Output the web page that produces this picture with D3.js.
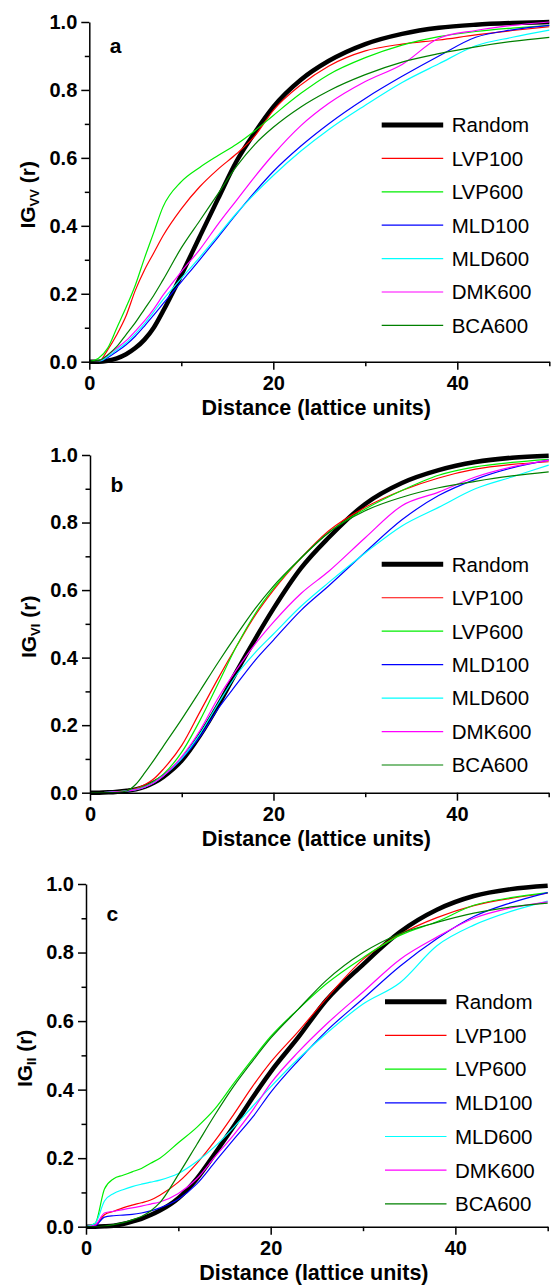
<!DOCTYPE html>
<html>
<head>
<meta charset="utf-8">
<script src="https://cdn.jsdelivr.net/npm/d3@7"></script>
<style>
  body { margin: 0; background: #fff; }
  svg text { font-family: "Liberation Sans", Arial, sans-serif; fill: #000; }
  .tick text { font-weight: bold; font-size: 20px; }
  .domain, .tick line { stroke: #000; stroke-width: 1.5; }
</style>
</head>
<body>
<div id="chart"></div>
<script>
// distance grid (lattice units)
var xs = [0, 1, 2, 3, 4, 5, 6, 7, 8, 10, 12, 14, 16, 18, 20, 23, 26, 30, 34, 38, 42, 46, 50];

var names = ["Random", "LVP100", "LVP600", "MLD100", "MLD600", "DMK600", "BCA600"];
var colors = ["#000000", "#ff0000", "#00ee00", "#0000ff", "#00ffff", "#ff00ff", "#008000"];

var yTicks = [0, 0.2, 0.4, 0.6, 0.8, 1.0];
var xTicks = [0, 20, 40];

// panel a : IG_VV
var aRandom = [0, 0, 0.003, 0.01, 0.022, 0.04, 0.065, 0.1, 0.148, 0.255, 0.368, 0.48, 0.59, 0.675, 0.75, 0.83, 0.885, 0.935, 0.965, 0.983, 0.992, 0.997, 1.0];
var aLVP100 = [0, 0, 0.035, 0.08, 0.135, 0.21, 0.27, 0.32, 0.37, 0.45, 0.515, 0.567, 0.612, 0.665, 0.74, 0.815, 0.87, 0.915, 0.935, 0.947, 0.962, 0.975, 0.986];
var aLVP600 = [0, 0.01, 0.04, 0.1, 0.16, 0.225, 0.305, 0.38, 0.455, 0.53, 0.572, 0.607, 0.64, 0.68, 0.725, 0.79, 0.845, 0.895, 0.932, 0.957, 0.972, 0.982, 0.99];
var aMLD100 = [0, 0, 0.012, 0.03, 0.05, 0.075, 0.105, 0.137, 0.17, 0.235, 0.3, 0.367, 0.435, 0.5, 0.56, 0.635, 0.7, 0.775, 0.84, 0.9, 0.955, 0.977, 0.99];
var aMLD600 = [0, 0, 0.015, 0.035, 0.055, 0.082, 0.112, 0.147, 0.182, 0.245, 0.307, 0.372, 0.437, 0.495, 0.548, 0.62, 0.683, 0.755, 0.822, 0.877, 0.93, 0.955, 0.976];
var aDMK600 = [0, 0.002, 0.02, 0.04, 0.062, 0.09, 0.12, 0.155, 0.195, 0.265, 0.33, 0.405, 0.475, 0.545, 0.61, 0.695, 0.76, 0.825, 0.875, 0.952, 0.975, 0.99, 1.0];
var aBCA600 = [0, 0.003, 0.02, 0.045, 0.08, 0.115, 0.155, 0.195, 0.24, 0.335, 0.415, 0.495, 0.575, 0.64, 0.69, 0.75, 0.797, 0.845, 0.882, 0.907, 0.927, 0.943, 0.955];

// panel b : IG_VI
var bRandom = [0, 0, 0.001, 0.003, 0.006, 0.01, 0.018, 0.03, 0.047, 0.095, 0.17, 0.26, 0.36, 0.455, 0.545, 0.665, 0.755, 0.855, 0.917, 0.955, 0.979, 0.992, 0.998];
var bLVP100 = [0, 0, 0.001, 0.003, 0.006, 0.012, 0.024, 0.042, 0.07, 0.14, 0.24, 0.34, 0.435, 0.525, 0.6, 0.695, 0.775, 0.845, 0.895, 0.932, 0.958, 0.972, 0.98];
var bLVP600 = [0, 0, 0.001, 0.003, 0.006, 0.011, 0.02, 0.034, 0.055, 0.12, 0.215, 0.325, 0.435, 0.53, 0.605, 0.695, 0.77, 0.84, 0.895, 0.94, 0.965, 0.978, 0.987];
var bMLD100 = [0, 0, 0.001, 0.003, 0.005, 0.009, 0.017, 0.03, 0.05, 0.1, 0.166, 0.25, 0.322, 0.392, 0.452, 0.54, 0.612, 0.712, 0.808, 0.88, 0.928, 0.962, 0.985];
var bMLD600 = [0, 0, 0.001, 0.003, 0.005, 0.009, 0.017, 0.03, 0.05, 0.102, 0.175, 0.265, 0.35, 0.415, 0.47, 0.552, 0.622, 0.71, 0.79, 0.845, 0.9, 0.935, 0.97];
var bDMK600 = [0, 0, 0.001, 0.003, 0.005, 0.009, 0.017, 0.03, 0.05, 0.107, 0.185, 0.282, 0.365, 0.44, 0.505, 0.59, 0.655, 0.755, 0.85, 0.89, 0.935, 0.965, 0.985];
var bBCA600 = [0, 0, 0, 0.001, 0.005, 0.025, 0.06, 0.098, 0.138, 0.218, 0.302, 0.387, 0.468, 0.545, 0.612, 0.695, 0.77, 0.835, 0.875, 0.903, 0.922, 0.938, 0.95];

// panel c : IG_II
var cRandom = [0, 0, 0.001, 0.003, 0.008, 0.015, 0.023, 0.034, 0.047, 0.083, 0.14, 0.215, 0.293, 0.375, 0.452, 0.553, 0.66, 0.765, 0.86, 0.925, 0.965, 0.985, 0.995];
var cLVP100 = [0, 0.005, 0.035, 0.045, 0.055, 0.063, 0.07, 0.078, 0.092, 0.13, 0.185, 0.252, 0.328, 0.408, 0.48, 0.57, 0.665, 0.78, 0.853, 0.902, 0.937, 0.958, 0.973];
var cLVP600 = [0, 0.01, 0.11, 0.14, 0.15, 0.16, 0.17, 0.185, 0.2, 0.245, 0.29, 0.345, 0.418, 0.488, 0.555, 0.635, 0.708, 0.785, 0.85, 0.89, 0.938, 0.96, 0.975];
var cMLD100 = [0, 0.003, 0.028, 0.032, 0.034, 0.036, 0.04, 0.046, 0.055, 0.08, 0.125, 0.19, 0.255, 0.318, 0.392, 0.485, 0.57, 0.665, 0.76, 0.84, 0.905, 0.945, 0.975];
var cMLD600 = [0, 0.01, 0.075, 0.097, 0.108, 0.117, 0.124, 0.13, 0.136, 0.155, 0.19, 0.235, 0.29, 0.35, 0.408, 0.49, 0.563, 0.65, 0.712, 0.82, 0.88, 0.92, 0.95];
var cDMK600 = [0, 0.005, 0.04, 0.045, 0.05, 0.055, 0.06, 0.066, 0.072, 0.097, 0.14, 0.205, 0.268, 0.338, 0.418, 0.51, 0.59, 0.685, 0.78, 0.845, 0.9, 0.93, 0.948];
var cBCA600 = [0, 0, 0.002, 0.006, 0.012, 0.02, 0.03, 0.046, 0.07, 0.152, 0.24, 0.328, 0.41, 0.482, 0.55, 0.635, 0.718, 0.8, 0.855, 0.888, 0.915, 0.933, 0.944];

var panels = [
  { letter: "a", sub: "VV", series: [aRandom, aLVP100, aLVP600, aMLD100, aMLD600, aDMK600, aBCA600],
    left: 89.3, right: 549.3, top: 22, bottom: 361.7, legX: 381.7, legY: 125, legStep: 33.4 },
  { letter: "b", sub: "VI", series: [bRandom, bLVP100, bLVP600, bMLD100, bMLD600, bDMK600, bBCA600],
    left: 90, right: 548.7, top: 455, bottom: 792.7, legX: 381.7, legY: 564.3, legStep: 33.45 },
  { letter: "c", sub: "II", series: [cRandom, cLVP100, cLVP600, cMLD100, cMLD600, cDMK600, cBCA600],
    left: 86, right: 547.7, top: 884, bottom: 1226.7, legX: 385, legY: 1001.7, legStep: 33.7 }
];

var svg = d3.select("#chart")
  .append("svg")
  .attr("width", 553)
  .attr("height", 1285);

panels.forEach(function(p) {
  var x = d3.scaleLinear().domain([0, 50]).range([p.left, p.right]);
  var y = d3.scaleLinear().domain([0, 1]).range([p.bottom, p.top]);

  var g = svg.append("g");

  // curves - Random first so the thin ones sit on top
  var line = d3.line()
    .x(function(d) { return x(d[0]); })
    .y(function(d) { return y(d[1]); })
    .curve(d3.curveMonotoneX);

  p.series.forEach(function(vals, i) {
    g.append("path")
      .datum(xs.map(function(xv, k) { return [xv, vals[k]]; }))
      .attr("fill", "none")
      .attr("stroke", colors[i])
      .attr("stroke-width", i === 0 ? 4.5 : 1.2)
      .attr("stroke-linejoin", "round")
      .attr("d", line);
  });

  // minor ticks
  g.append("g")
    .attr("transform", `translate(${p.left},0)`)
    .call(d3.axisLeft(y).tickValues([0.1, 0.3, 0.5, 0.7, 0.9]).tickSize(4.5).tickFormat(""))
    .select(".domain").remove();
  g.append("g")
    .attr("transform", `translate(0,${p.bottom})`)
    .call(d3.axisBottom(x).tickValues([10, 30, 50]).tickSize(4.5).tickFormat(""))
    .select(".domain").remove();

  // major axes
  var yAxis = g.append("g")
    .attr("transform", `translate(${p.left},0)`)
    .call(d3.axisLeft(y).tickValues(yTicks).tickSize(8).tickSizeOuter(0).tickPadding(4).tickFormat(d3.format(".1f")));
  yAxis.selectAll(".tick text").attr("font-size", "20px");

  var xAxis = g.append("g")
    .attr("transform", `translate(0,${p.bottom})`)
    .call(d3.axisBottom(x).tickValues(xTicks).tickSize(8).tickSizeOuter(0).tickPadding(6).tickFormat(d3.format("d")));
  xAxis.selectAll(".tick text").attr("font-size", "20px");

  // axis titles
  g.append("text")
    .attr("x", (p.left + p.right) / 2 - 3)
    .attr("y", p.bottom + 53)
    .attr("text-anchor", "middle")
    .attr("font-weight", "bold")
    .attr("font-size", "21.5px")
    .text("Distance (lattice units)");

  var yt = g.append("text")
    .attr("transform", `translate(${p.left - 54},${(p.top + p.bottom) / 2 + 3}) rotate(-90)`)
    .attr("text-anchor", "middle")
    .attr("font-weight", "bold")
    .attr("font-size", "21px");
  yt.append("tspan").text("IG");
  yt.append("tspan").attr("dy", 4).attr("font-size", "13px").text(p.sub);
  yt.append("tspan").attr("dy", -4).text(" (r)");

  // panel letter
  g.append("text")
    .attr("x", p.left + 20.5)
    .attr("y", p.top + 31 + (p.letter === "a" ? 0 : 5.5))
    .attr("font-weight", "bold")
    .attr("font-size", "21px")
    .text(p.letter);

  // legend
  names.forEach(function(name, i) {
    var ly = p.legY + i * p.legStep;
    g.append("line")
      .attr("x1", p.legX).attr("x2", p.legX + 61.5)
      .attr("y1", ly).attr("y2", ly)
      .attr("stroke", colors[i])
      .attr("stroke-width", i === 0 ? 5 : 1.2);
    g.append("text")
      .attr("x", p.legX + 70)
      .attr("y", ly)
      .attr("dy", "0.36em")
      .attr("font-size", "20.5px")
      .text(name);
  });
});
</script>
</body>
</html>
